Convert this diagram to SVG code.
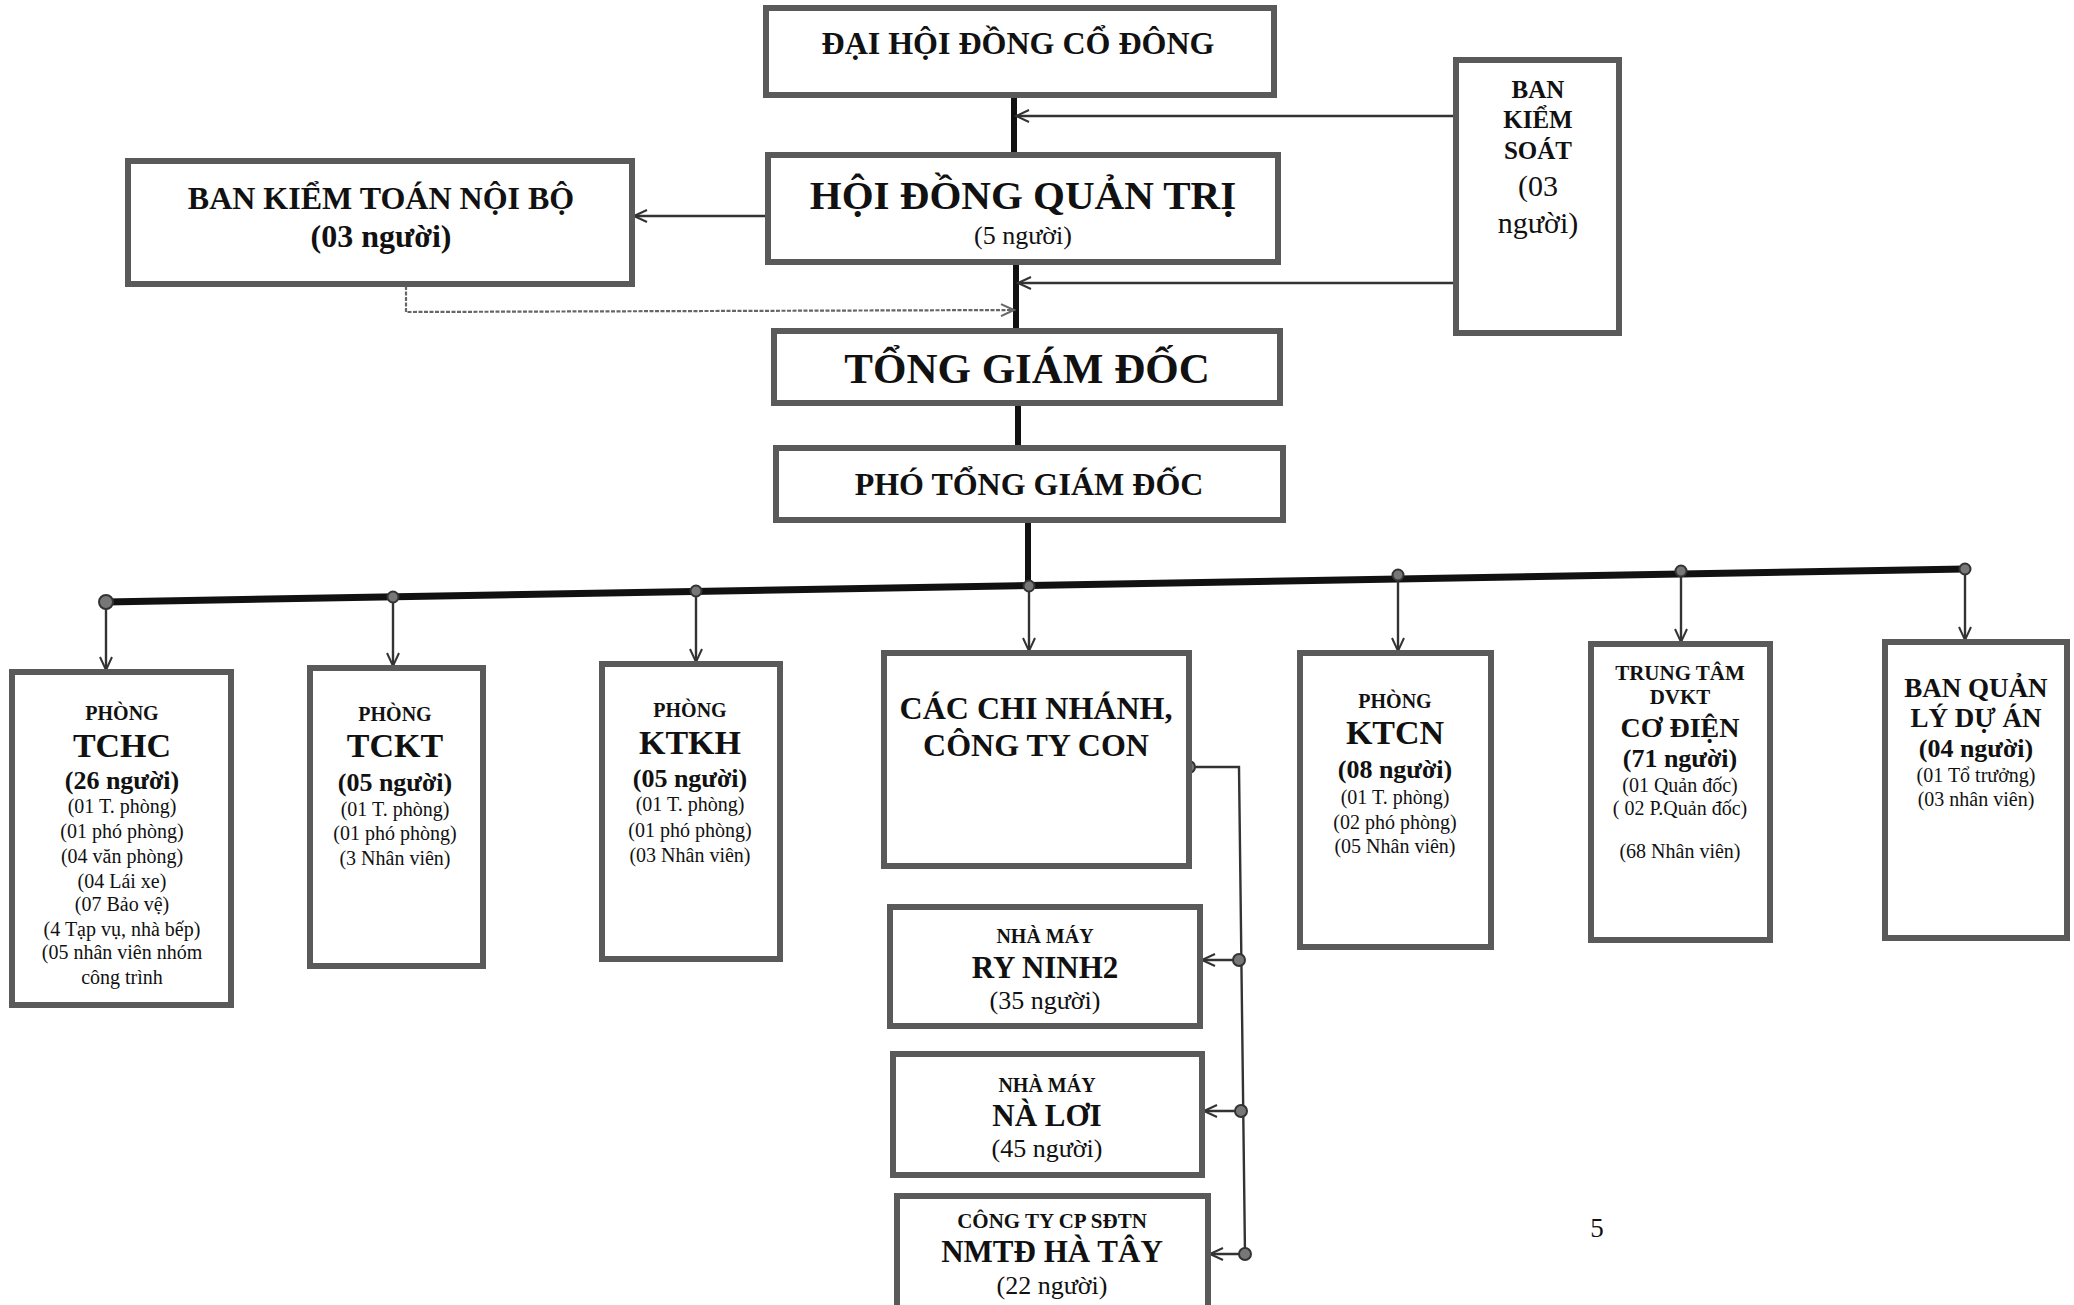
<svg xmlns="http://www.w3.org/2000/svg" width="2074" height="1305" viewBox="0 0 2074 1305">
<defs>
<style>
.box{fill:#fff;stroke:#5a5a5a;stroke-width:6}
.t{font-family:"Liberation Serif","Times New Roman",serif;fill:#111;text-anchor:middle}
.b{font-weight:bold}
.thick{stroke:#111;stroke-width:6;fill:none}
.bus{stroke:#111;stroke-width:7;fill:none}
.thin{stroke:#333;stroke-width:2.4;fill:none}
.dash{stroke:#666;stroke-width:2.2;fill:none;stroke-dasharray:4 1.5}
.dot{fill:#777;stroke:#333;stroke-width:2}
</style>
<marker id="arr" markerUnits="userSpaceOnUse" markerWidth="16" markerHeight="16" refX="14" refY="7" orient="auto">
<path d="M1,1 L14,7 L1,13" fill="none" stroke="#333" stroke-width="2"/>
</marker>
<marker id="arrg" markerUnits="userSpaceOnUse" markerWidth="16" markerHeight="16" refX="14" refY="7" orient="auto">
<path d="M1,1 L14,7 L1,13" fill="none" stroke="#666" stroke-width="2"/>
</marker>
</defs>
<rect width="2074" height="1305" fill="#fff"/>

<g id="connectors">
<line class="thick" x1="1014" y1="95" x2="1014" y2="155"/>
<line class="thick" x1="1016" y1="262" x2="1016" y2="331"/>
<line class="thick" x1="1018" y1="403" x2="1018" y2="448"/>
<line class="thick" x1="1028" y1="520" x2="1028" y2="586"/>
<line class="thin" x1="1456" y1="116" x2="1016" y2="116" marker-end="url(#arr)"/>
<line class="thin" x1="1456" y1="283" x2="1018" y2="283" marker-end="url(#arr)"/>
<line class="thin" x1="768" y1="216" x2="634" y2="216" marker-end="url(#arr)"/>
<polyline class="dash" points="406,286 406,312 1014,310" marker-end="url(#arrg)"/>
<line class="bus" x1="106" y1="602" x2="1965" y2="569"/>
<line class="thin" x1="106" y1="602" x2="106" y2="670" marker-end="url(#arr)"/>
<line class="thin" x1="393" y1="597" x2="393" y2="666" marker-end="url(#arr)"/>
<line class="thin" x1="696" y1="591" x2="696" y2="662" marker-end="url(#arr)"/>
<line class="thin" x1="1029" y1="586" x2="1029" y2="651" marker-end="url(#arr)"/>
<line class="thin" x1="1398" y1="575" x2="1398" y2="651" marker-end="url(#arr)"/>
<line class="thin" x1="1681" y1="571" x2="1681" y2="642" marker-end="url(#arr)"/>
<line class="thin" x1="1965" y1="569" x2="1965" y2="640" marker-end="url(#arr)"/>
<circle class="dot" cx="106" cy="602" r="7"/>
<circle class="dot" cx="393" cy="597" r="5.5"/>
<circle class="dot" cx="696" cy="591" r="5.5"/>
<circle class="dot" cx="1029" cy="586" r="5.5"/>
<circle class="dot" cx="1398" cy="575" r="5.5"/>
<circle class="dot" cx="1681" cy="571" r="5.5"/>
<circle class="dot" cx="1965" cy="569" r="5.5"/>
<polyline class="thin" points="1189,767 1239,767 1245,1254"/>
<line class="thin" x1="1239" y1="960" x2="1202" y2="960" marker-end="url(#arr)"/>
<line class="thin" x1="1241" y1="1111" x2="1204" y2="1111" marker-end="url(#arr)"/>
<line class="thin" x1="1245" y1="1254" x2="1210" y2="1254" marker-end="url(#arr)"/>
<circle class="dot" cx="1189" cy="767" r="6"/>
<circle class="dot" cx="1239" cy="960" r="6"/>
<circle class="dot" cx="1241" cy="1111" r="6"/>
<circle class="dot" cx="1245" cy="1254" r="6"/>
</g>

<g id="dai-hoi-dong-co-dong">
<rect class="box" x="766" y="8" width="508" height="87"/>
<text class="t b" x="1018" y="54" font-size="32">ĐẠI HỘI ĐỒNG CỔ ĐÔNG</text>
</g>

<g id="hoi-dong-quan-tri">
<rect class="box" x="768" y="155" width="510" height="107"/>
<text class="t b" x="1023" y="209" font-size="41">HỘI ĐỒNG QUẢN TRỊ</text>
<text class="t" x="1023" y="244" font-size="26">(5 người)</text>
</g>

<g id="ban-kiem-soat">
<rect class="box" x="1456" y="60" width="163" height="273"/>
<text class="t b" x="1538" y="98" font-size="25">BAN</text>
<text class="t b" x="1538" y="128" font-size="25">KIỂM</text>
<text class="t b" x="1538" y="159" font-size="25">SOÁT</text>
<text class="t" x="1538" y="196" font-size="30">(03</text>
<text class="t" x="1538" y="233" font-size="30">người)</text>
</g>

<g id="ban-kiem-toan-noi-bo">
<rect class="box" x="128" y="161" width="504" height="123"/>
<text class="t b" x="381" y="209" font-size="32">BAN KIỂM TOÁN NỘI BỘ</text>
<text class="t b" x="381" y="247" font-size="32">(03 người)</text>
</g>

<g id="tong-giam-doc">
<rect class="box" x="774" y="331" width="506" height="72"/>
<text class="t b" x="1027" y="383" font-size="43">TỔNG GIÁM ĐỐC</text>
</g>

<g id="pho-tong-giam-doc">
<rect class="box" x="776" y="448" width="507" height="72"/>
<text class="t b" x="1029" y="495" font-size="32">PHÓ TỔNG GIÁM ĐỐC</text>
</g>

<g id="phong-tchc">
<rect class="box" x="12" y="672" width="219" height="333"/>
<text class="t b" x="122" y="720" font-size="20">PHÒNG</text>
<text class="t b" x="122" y="757" font-size="34">TCHC</text>
<text class="t b" x="122" y="789" font-size="26">(26 người)</text>
<text class="t" x="122" y="813" font-size="20">(01 T. phòng)</text>
<text class="t" x="122" y="838" font-size="20">(01 phó phòng)</text>
<text class="t" x="122" y="863" font-size="20">(04 văn phòng)</text>
<text class="t" x="122" y="888" font-size="20">(04 Lái xe)</text>
<text class="t" x="122" y="911" font-size="20">(07 Bảo vệ)</text>
<text class="t" x="122" y="936" font-size="20">(4 Tạp vụ, nhà bếp)</text>
<text class="t" x="122" y="959" font-size="20">(05 nhân viên nhóm</text>
<text class="t" x="122" y="984" font-size="20">công trình</text>
</g>

<g id="phong-tckt">
<rect class="box" x="310" y="668" width="173" height="298"/>
<text class="t b" x="395" y="721" font-size="20">PHÒNG</text>
<text class="t b" x="395" y="757" font-size="34">TCKT</text>
<text class="t b" x="395" y="791" font-size="26">(05 người)</text>
<text class="t" x="395" y="816" font-size="20">(01 T. phòng)</text>
<text class="t" x="395" y="840" font-size="20">(01 phó phòng)</text>
<text class="t" x="395" y="865" font-size="20">(3 Nhân viên)</text>
</g>

<g id="phong-ktkh">
<rect class="box" x="602" y="664" width="178" height="295"/>
<text class="t b" x="690" y="717" font-size="20">PHÒNG</text>
<text class="t b" x="690" y="754" font-size="34">KTKH</text>
<text class="t b" x="690" y="787" font-size="26">(05 người)</text>
<text class="t" x="690" y="811" font-size="20">(01 T. phòng)</text>
<text class="t" x="690" y="837" font-size="20">(01 phó phòng)</text>
<text class="t" x="690" y="862" font-size="20">(03 Nhân viên)</text>
</g>

<g id="cac-chi-nhanh">
<rect class="box" x="884" y="653" width="305" height="213"/>
<text class="t b" x="1036" y="719" font-size="32">CÁC CHI NHÁNH,</text>
<text class="t b" x="1036" y="756" font-size="32">CÔNG TY CON</text>
</g>

<g id="phong-ktcn">
<rect class="box" x="1300" y="653" width="191" height="294"/>
<text class="t b" x="1395" y="708" font-size="20">PHÒNG</text>
<text class="t b" x="1395" y="744" font-size="34">KTCN</text>
<text class="t b" x="1395" y="778" font-size="26">(08 người)</text>
<text class="t" x="1395" y="804" font-size="20">(01 T. phòng)</text>
<text class="t" x="1395" y="829" font-size="20">(02 phó phòng)</text>
<text class="t" x="1395" y="853" font-size="20">(05 Nhân viên)</text>
</g>

<g id="trung-tam-dvkt">
<rect class="box" x="1591" y="644" width="179" height="296"/>
<text class="t b" x="1680" y="680" font-size="21">TRUNG TÂM</text>
<text class="t b" x="1680" y="704" font-size="21">DVKT</text>
<text class="t b" x="1680" y="737" font-size="28">CƠ ĐIỆN</text>
<text class="t b" x="1680" y="767" font-size="26">(71 người)</text>
<text class="t" x="1680" y="792" font-size="20">(01 Quản đốc)</text>
<text class="t" x="1680" y="815" font-size="20">( 02 P.Quản đốc)</text>
<text class="t" x="1680" y="858" font-size="20">(68 Nhân viên)</text>
</g>

<g id="ban-quan-ly-du-an">
<rect class="box" x="1885" y="642" width="182" height="296"/>
<text class="t b" x="1976" y="697" font-size="27">BAN QUẢN</text>
<text class="t b" x="1976" y="727" font-size="27">LÝ DỰ ÁN</text>
<text class="t b" x="1976" y="757" font-size="26">(04 người)</text>
<text class="t" x="1976" y="782" font-size="20">(01 Tổ trưởng)</text>
<text class="t" x="1976" y="806" font-size="20">(03 nhân viên)</text>
</g>

<g id="nha-may-ry-ninh2">
<rect class="box" x="890" y="907" width="310" height="119"/>
<text class="t b" x="1045" y="943" font-size="20">NHÀ MÁY</text>
<text class="t b" x="1045" y="978" font-size="31">RY NINH2</text>
<text class="t" x="1045" y="1009" font-size="26">(35 người)</text>
</g>

<g id="nha-may-na-loi">
<rect class="box" x="893" y="1054" width="309" height="121"/>
<text class="t b" x="1047" y="1092" font-size="20">NHÀ MÁY</text>
<text class="t b" x="1047" y="1126" font-size="31">NÀ LƠI</text>
<text class="t" x="1047" y="1157" font-size="26">(45 người)</text>
</g>

<g id="nmtd-ha-tay">
<rect class="box" x="897" y="1196" width="311" height="130"/>
<text class="t b" x="1052" y="1228" font-size="21">CÔNG TY CP SĐTN</text>
<text class="t b" x="1052" y="1262" font-size="31">NMTĐ HÀ TÂY</text>
<text class="t" x="1052" y="1294" font-size="26">(22 người)</text>
</g>

<text class="t" x="1597" y="1237" font-size="27">5</text>
</svg>
